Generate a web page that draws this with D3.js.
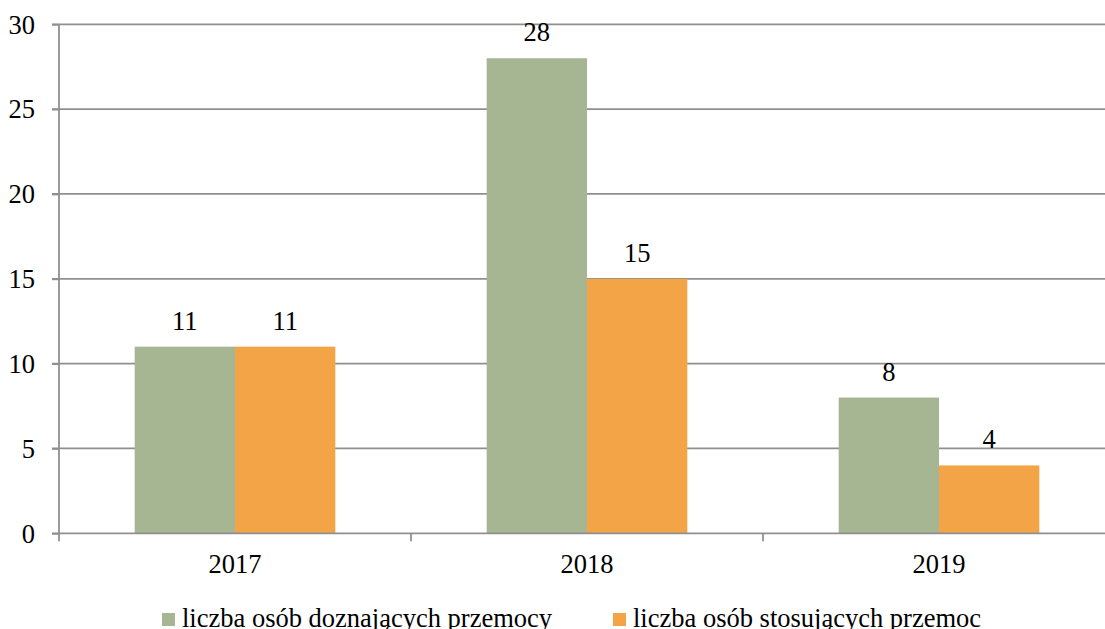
<!DOCTYPE html>
<html>
<head>
<meta charset="utf-8">
<script src="https://cdn.jsdelivr.net/npm/d3@7"></script>
</head>
<body style="margin:0;background:#fff">
<svg id="chart" width="1105" height="629" style="display:block"></svg>
<script>
const categories = ["2017", "2018", "2019"];
const seriesNames = ["liczba osób doznających przemocy", "liczba osób stosujących przemoc"];
const victims = [11, 28, 8];
const perpetrators = [11, 15, 4];
const yTicks = [0, 5, 10, 15, 20, 25, 30];
const colors = ["#A6B592", "#F3A447"];

const FONT = "Liberation Serif";
const FS = 26.5;
const svg = d3.select("#chart");
const x0 = 59, x1 = 1115, yTop = 24.3, yBottom = 533.3;
const gridColor = "#8f8f8f";

const x = d3.scaleBand().domain(categories).range([x0, x1]).paddingInner(0.43).paddingOuter(0.215);
const xs = d3.scaleBand().domain([0, 1]).range([0, x.bandwidth()]);
const y = d3.scaleLinear().domain([0, 30]).range([yBottom, yTop]);

// gridlines
svg.append("g").selectAll("line").data(yTicks.filter(d => d > 0)).join("line")
  .attr("x1", x0 - 7).attr("x2", 1105)
  .attr("y1", d => y(d)).attr("y2", d => y(d))
  .attr("stroke", gridColor).attr("stroke-width", 1.8);

// bars
const data = categories.map((c, i) => ({ c, vals: [victims[i], perpetrators[i]] }));
const groups = svg.append("g").selectAll("g").data(data).join("g")
  .attr("transform", d => `translate(${x(d.c)},0)`);
groups.selectAll("rect").data(d => d.vals.map((v, k) => ({ v, k }))).join("rect")
  .attr("x", d => xs(d.k)).attr("width", xs.bandwidth())
  .attr("y", d => y(d.v)).attr("height", d => y(0) - y(d.v))
  .attr("fill", d => colors[d.k]);
groups.selectAll("text").data(d => d.vals.map((v, k) => ({ v, k }))).join("text")
  .attr("x", d => xs(d.k) + xs.bandwidth() / 2)
  .attr("y", d => y(d.v) - 17)
  .attr("text-anchor", "middle")
  .attr("font-family", FONT)
  .attr("font-size", FS)
  .text(d => d.v);

// y axis
const yAxis = d3.axisLeft(y).tickValues(yTicks).tickSize(7).tickPadding(17);
const gy = svg.append("g").attr("transform", `translate(${x0},0)`).call(yAxis);
gy.attr("font-family", FONT).attr("font-size", FS);
gy.select(".domain").remove();
gy.selectAll(".tick line").attr("stroke", gridColor).attr("stroke-width", 1.8);
gy.selectAll(".tick text").attr("font-family", FONT).attr("font-size", FS).attr("fill", "#000").attr("dy", "0.33em");
svg.append("line").attr("x1", x0).attr("x2", x0).attr("y1", yTop).attr("y2", yBottom + 8)
  .attr("stroke", gridColor).attr("stroke-width", 1.8);

// x axis
svg.append("line").attr("x1", x0 - 7).attr("x2", 1105).attr("y1", yBottom).attr("y2", yBottom)
  .attr("stroke", gridColor).attr("stroke-width", 1.8);
const boundaries = categories.slice(1).map(c => x(c) - x.step() * x.paddingInner() / 2);
svg.append("g").selectAll("line").data(boundaries).join("line")
  .attr("x1", d => d).attr("x2", d => d).attr("y1", yBottom).attr("y2", yBottom + 8)
  .attr("stroke", gridColor).attr("stroke-width", 1.8);
svg.append("g").selectAll("text").data(categories).join("text")
  .attr("x", d => x(d) + x.bandwidth() / 2).attr("y", 573)
  .attr("text-anchor", "middle").attr("font-family", FONT).attr("font-size", FS).text(d => d);

// legend
const legendX = [162, 613];
const lg = svg.append("g").selectAll("g").data(seriesNames).join("g")
  .attr("transform", (d, i) => `translate(${legendX[i]},0)`);
lg.append("rect").attr("x", 0).attr("y", 613).attr("width", 13).attr("height", 13)
  .attr("fill", (d, i) => colors[i]);
lg.append("text").attr("x", 20).attr("y", 627).attr("font-family", FONT).attr("font-size", FS).text(d => d);
</script>
</body>
</html>
